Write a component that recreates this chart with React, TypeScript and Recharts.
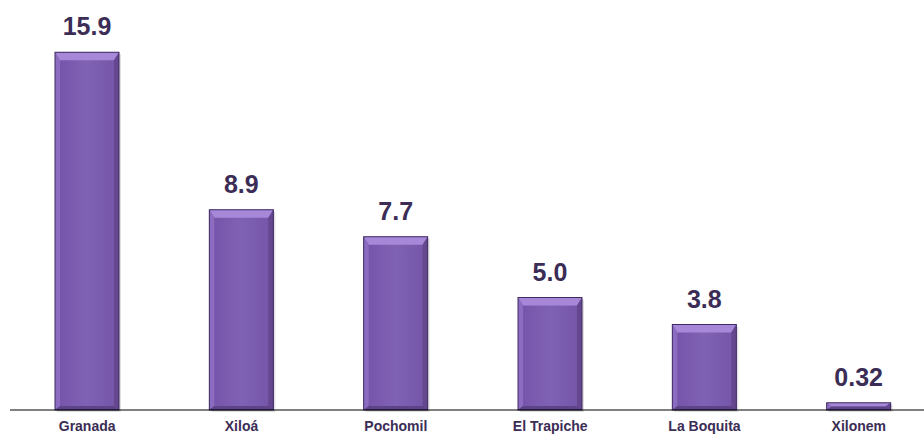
import React from 'react';
import { BarChart, Bar, XAxis, YAxis, LabelList } from 'recharts';

const categories = ['Granada', 'Xiloá', 'Pochomil', 'El Trapiche', 'La Boquita', 'Xilonem'];
const values = [15.9, 8.9, 7.7, 5.0, 3.8, 0.32];
const valueLabels = ['15.9', '8.9', '7.7', '5.0', '3.8', '0.32'];

const data = categories.map((name, i) => ({ name, value: values[i], label: valueLabels[i] }));

const TEXT = '#3b2d56';
const FONT = '"Liberation Sans", Arial, sans-serif';

const BevelBar = (props: any) => {
  const { x, y, width: w, height: h, index } = props;
  if (!w || !h || h <= 0) return null;
  const bt = Math.min(8, h / 2);
  const bs = Math.min(5, w / 2);
  const bb = Math.min(4, h / 2);
  const id = `g${index}`;
  return (
    <g>
      <defs>
        <linearGradient id={id} x1="0" y1="0" x2="1" y2="0">
          <stop offset="0" stopColor="#7453a8" />
          <stop offset="0.5" stopColor="#8062b4" />
          <stop offset="1" stopColor="#7354a6" />
        </linearGradient>
      </defs>
      <rect x={x + 2} y={y + 2} width={w} height={h} fill="#000" opacity={0.12} />
      <rect x={x} y={y} width={w} height={h} fill={`url(#${id})`} />
      <polygon points={`${x},${y} ${x + w},${y} ${x + w - bs},${y + bt} ${x + bs},${y + bt}`} fill="#a788d8" />
      <polygon points={`${x},${y} ${x + bs},${y + bt} ${x + bs},${y + h - bb} ${x},${y + h}`} fill="#8b6cc0" />
      <polygon points={`${x + w},${y} ${x + w - bs},${y + bt} ${x + w - bs},${y + h - bb} ${x + w},${y + h}`} fill="#64478f" />
      <polygon points={`${x},${y + h} ${x + bs},${y + h - bb} ${x + w - bs},${y + h - bb} ${x + w},${y + h}`} fill="#5d4488" />
      <rect x={x} y={y} width={w} height={h} fill="none" stroke="#3f2a63" strokeWidth={1} />
    </g>
  );
};

export default function App() {
  return (
    <div style={{ position: 'absolute', left: 0, top: 0, width: 924, height: 437, overflow: 'hidden', background: '#fff' }}>
      <BarChart
        width={940}
        height={437}
        data={data}
        margin={{ top: 5, right: 4, left: 10, bottom: 0 }}
        barSize={64}
      >
        <XAxis
          dataKey="name"
          height={27}
          tickLine={false}
          axisLine={{ stroke: '#000', strokeWidth: 1 }}
          tickMargin={5}
          interval={0}
          tick={{ fill: TEXT, fontSize: 14, fontWeight: 'bold', fontFamily: FONT }}
        />
        <YAxis hide domain={[0, 18]} />
        <Bar dataKey="value" shape={<BevelBar />} isAnimationActive={false}>
          <LabelList
            dataKey="label"
            position="top"
            offset={17}
            fill={TEXT}
            style={{ fontSize: 25, fontWeight: 'bold', fontFamily: FONT }}
          />
        </Bar>
      </BarChart>
    </div>
  );
}
